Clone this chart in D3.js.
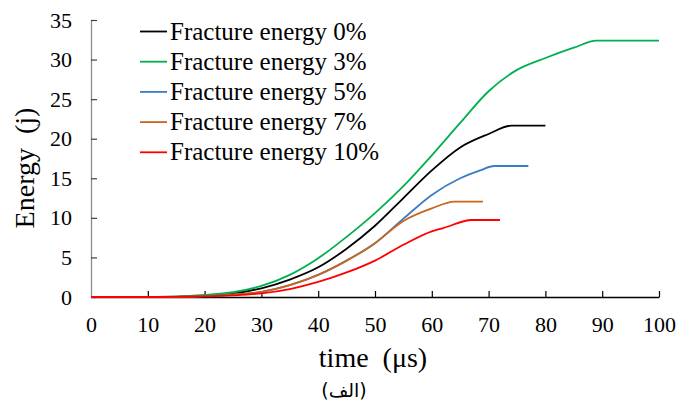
<!DOCTYPE html>
<html>
<head>
<meta charset="utf-8">
<script src="https://cdn.jsdelivr.net/npm/d3@7"></script>
<style>
  body { margin: 0; background: #fff; }
  svg { display: block; }
  text { font-family: "Liberation Serif", "Times New Roman", serif; }
</style>
</head>
<body>
<svg id="chart" width="676" height="412"></svg>
<script>
// series values
const seriesNames = ["Fracture energy 0%", "Fracture energy 3%", "Fracture energy 5%", "Fracture energy 7%", "Fracture energy 10%"];
const seriesColors = ["#000000", "#00b050", "#3a7dc2", "#c8651f", "#ff0000"];

const time0 = [0, 10, 15, 20, 25, 30, 35, 40, 45, 50, 55, 60, 65, 70, 74, 80];
const energy0 = [0, 0, 0.03, 0.15, 0.45, 1.1, 2.2, 3.75, 6.1, 9.0, 12.5, 16.0, 18.9, 20.6, 21.65, 21.65];

const time3 = [0, 10, 15, 20, 25, 30, 35, 40, 45, 50, 55, 60, 65, 70, 75, 80, 85, 89, 100];
const energy3 = [0, 0, 0.05, 0.25, 0.6, 1.4, 2.8, 4.9, 7.6, 10.6, 14.0, 17.9, 22.0, 26.0, 28.7, 30.2, 31.5, 32.4, 32.4];

const time5 = [0, 10, 15, 20, 25, 30, 35, 40, 45, 50, 55, 60, 65, 68.5, 71, 77];
const energy5 = [0, 0, 0.02, 0.1, 0.3, 0.65, 1.5, 2.8, 4.6, 6.8, 9.9, 12.9, 15.0, 16.0, 16.55, 16.55];

const time7 = [0, 10, 15, 20, 25, 30, 35, 40, 45, 50, 55, 60, 64, 69];
const energy7 = [0, 0, 0.02, 0.1, 0.3, 0.65, 1.5, 2.8, 4.6, 6.8, 9.6, 11.2, 12.05, 12.05];

const time10 = [0, 10, 15, 20, 25, 30, 35, 40, 45, 50, 55, 60, 62, 67, 72];
const energy10 = [0, 0, 0.02, 0.08, 0.2, 0.45, 1.0, 1.9, 3.1, 4.6, 6.6, 8.3, 8.7, 9.73, 9.73];

const xTicks = [0, 10, 20, 30, 40, 50, 60, 70, 80, 90, 100];
const yTicks = [0, 5, 10, 15, 20, 25, 30, 35];

const allTimes = [time0, time3, time5, time7, time10];
const allEnergy = [energy0, energy3, energy5, energy7, energy10];

const svg = d3.select('#chart');

const x = d3.scaleLinear().domain([0, 100]).range([91, 659]);
const y = d3.scaleLinear().domain([0, 35]).range([297, 20]);

// y axis (grey, ticks pointing inward)
const yAxis = svg.append('g')
    .attr('transform', 'translate(91,0)')
    .call(d3.axisLeft(y).tickValues(yTicks).tickSizeInner(-6).tickSizeOuter(0).tickPadding(19));
yAxis.select('.domain').attr('stroke', '#8c8c8c').attr('stroke-width', 1.3);
yAxis.selectAll('.tick line').attr('stroke', '#404040').attr('stroke-width', 1.2);
yAxis.selectAll('text').attr('font-size', 22).attr('font-family', 'Liberation Serif').attr('fill', '#000');

// x axis (black, ticks pointing up)
const xAxis = svg.append('g')
    .attr('transform', 'translate(0,297)')
    .call(d3.axisBottom(x).tickValues(xTicks).tickSizeInner(-6).tickSizeOuter(0).tickPadding(19));
xAxis.select('.domain').attr('stroke', '#000').attr('stroke-width', 1.3);
xAxis.selectAll('.tick line').attr('stroke', '#000').attr('stroke-width', 1.2);
xAxis.selectAll('.tick').filter(d => d === 0).select('line').remove();
xAxis.selectAll('text').attr('font-size', 22).attr('font-family', 'Liberation Serif').attr('fill', '#000');

// lines
const line = d3.line()
    .x(d => x(d[0]))
    .y(d => y(d[1]))
    .curve(d3.curveMonotoneX);

allTimes.forEach((times, i) => {
    const pts = times.map((t, j) => [t, allEnergy[i][j]]);
    svg.append('path')
        .datum(pts)
        .attr('fill', 'none')
        .attr('stroke', seriesColors[i])
        .attr('stroke-width', 1.8)
        .attr('d', line);
});

// legend
const legend = svg.append('g');
seriesNames.forEach((name, i) => {
    const ly = 31.5 + i * 30.2;
    legend.append('line')
        .attr('x1', 140).attr('x2', 167)
        .attr('y1', ly).attr('y2', ly)
        .attr('stroke', seriesColors[i])
        .attr('stroke-width', 1.8);
    legend.append('text')
        .attr('x', 170)
        .attr('y', ly + 8)
        .attr('font-size', 25)
        .text(name);
});

// axis titles
svg.append('text')
    .attr('x', 373)
    .attr('y', 367)
    .attr('text-anchor', 'middle')
    .attr('font-size', 28)
    .attr('xml:space', 'preserve')
    .text('time  (μs)');

svg.append('text')
    .attr('transform', 'translate(34,168) rotate(-90)')
    .attr('text-anchor', 'middle')
    .attr('font-size', 28)
    .attr('xml:space', 'preserve')
    .text('Energy  (j)');

// caption
svg.append('text')
    .attr('x', 344)
    .attr('y', 397)
    .attr('text-anchor', 'middle')
    .attr('font-size', 19)
    .style('font-family', '"DejaVu Sans", sans-serif')
    .attr('direction', 'rtl')
    .text('(الف)');
</script>
</body>
</html>
